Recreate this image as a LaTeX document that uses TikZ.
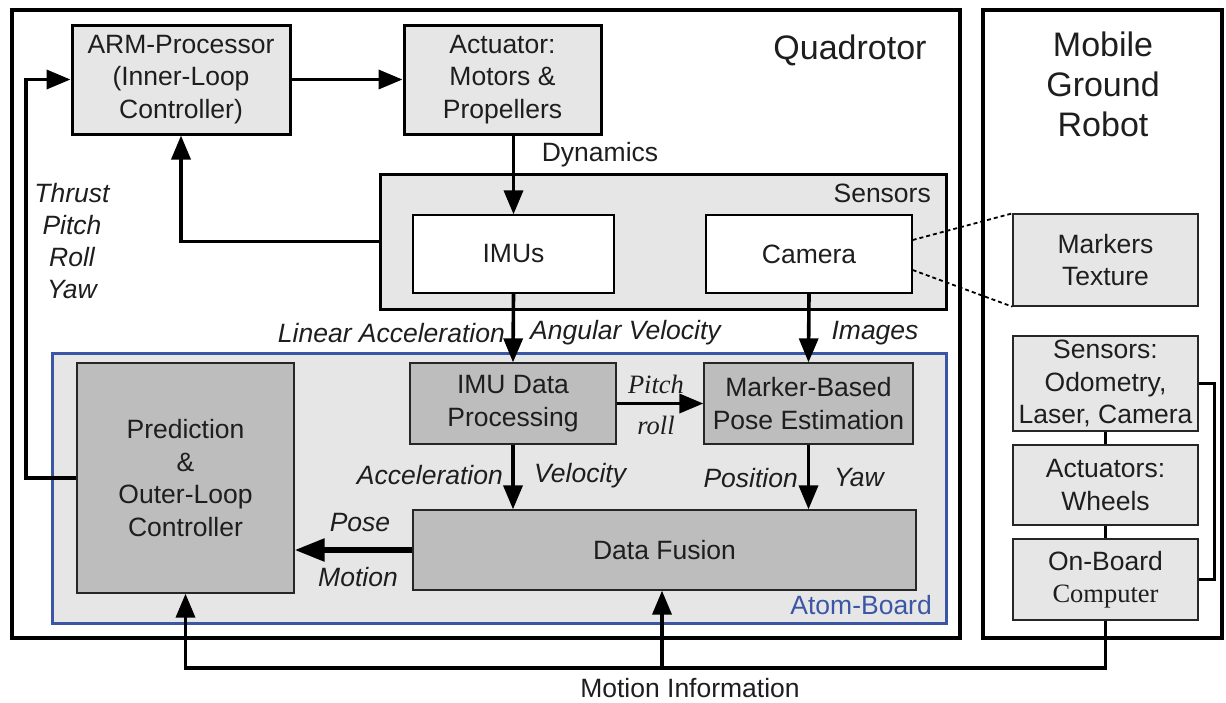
\documentclass[tikz,border=0pt]{standalone}
\usepackage{fontspec}
\setmainfont{Liberation Sans}
\newfontfamily\seriffont{Liberation Serif}
\usetikzlibrary{arrows.meta,calc}
\definecolor{boxlight}{HTML}{E6E6E6}
\definecolor{boxdark}{HTML}{BDBDBD}
\definecolor{atomblue}{HTML}{3B56A5}
\definecolor{ink}{HTML}{1E1E1E}
\tikzset{
  txt/.style={font=\fontsize{26.5}{32.5}\selectfont, text=ink, align=center, inner sep=0pt},
  lbl/.style={txt, font=\fontsize{26.5}{32}\selectfont\itshape},
  frame/.style={draw=black, line width=4.5pt, inner sep=0pt},
  heavybox/.style={txt, draw=black, line width=3pt, fill=boxlight},
  lightbox/.style={txt, draw=black!85, line width=1.3pt, fill=boxlight},
  whitebox/.style={txt, draw=black, line width=1.3pt, fill=white},
  procbox/.style={txt, draw=black!85, line width=1.3pt, fill=boxdark},
  conn/.style={draw=black, line width=3.6pt},
  arr/.style={conn, -{Triangle[length=24pt,width=19pt]}},
  bigarr/.style={draw=black, line width=5.5pt, -{Triangle[length=30pt,width=22pt]}},
  dotline/.style={draw=black, line width=1.8pt, dash pattern=on 4pt off 3pt},
}
\begin{document}
\begin{tikzpicture}[x=1pt, y=-1pt]
\useasboundingbox (0,0) rectangle (1226,702);

% outer frames
\node[frame, minimum width=948pt, minimum height=628pt] (quad) at (486,324) {};
\node[frame, minimum width=239pt, minimum height=628pt] (robot) at (1102.5,324) {};
\node[txt, font=\fontsize{34}{40}\selectfont] (quadlbl) at (850,50) {Quadrotor};
\node[txt, font=\fontsize{34}{40}\selectfont] (robotlbl) at (1103,84) {Mobile\\Ground\\Robot};

% upper blocks
\node[heavybox, minimum width=218pt, minimum height=109pt] (arm) at (181,79.5) {ARM-Processor\\(Inner-Loop\\Controller)};
\node[heavybox, minimum width=197pt, minimum height=109pt] (act) at (502.5,79.5) {Actuator:\\Motors \&\\Propellers};

% sensors group
\node[heavybox, minimum width=566pt, minimum height=135pt] (sens) at (663,241.5) {};
\node[txt, anchor=east] (senslbl) at (931,193) {Sensors};
\node[whitebox, minimum width=201pt, minimum height=78pt] (imu) at (513.5,254) {IMUs};
\node[whitebox, minimum width=206pt, minimum height=78pt] (cam) at (809,254) {Camera};

% atom board
\node[draw=atomblue, line width=3pt, fill=boxlight, minimum width=894pt, minimum height=270pt, inner sep=0pt] (atom) at (499,488) {};
\node[txt, text=atomblue, anchor=east] (atomlbl) at (932,605) {Atom-Board};
\node[procbox, minimum width=217pt, minimum height=230pt] (pred) at (185.5,478) {Prediction\\\&\\Outer-Loop\\Controller};
\node[procbox, minimum width=206pt, minimum height=81pt] (imudp) at (513,403.5) {IMU Data\\Processing};
\node[procbox, minimum width=209pt, minimum height=81pt] (mbpe) at (808.5,403.5) {Marker-Based\\Pose Estimation};
\node[procbox, minimum width=503pt, minimum height=80pt] (df) at (664.5,550) {Data Fusion};

% ground robot blocks
\node[lightbox, minimum width=185pt, minimum height=92pt] (markers) at (1105.5,260) {Markers\\Texture};
\node[lightbox, minimum width=185pt, minimum height=95pt] (rsens) at (1105.5,383.5) {Sensors:\\Odometry,\\Laser, Camera};
\node[lightbox, minimum width=185pt, minimum height=80pt] (ract) at (1105.5,485) {Actuators:\\Wheels};
\node[lightbox, minimum width=185pt, minimum height=81pt] (robc) at (1105.5,579.5) {On-Board\\{\seriffont Computer}};

% connectors in the quadrotor
\coordinate (lft) at (26,0);
\draw[arr] (pred.west) -- (pred.west -| lft) |- (arm.west);
\draw[arr] (arm.east) -- (act.west);
\draw[arr] (act.south -| imu.north) -- (imu.north);
\draw[arr] (sens.west) -| (arm.south);
\draw[arr] (imu.south) -- (imudp.north);
\draw[arr] (cam.south) -- (mbpe.north);
\draw[arr] (imudp.east) -- (mbpe.west);
\draw[arr] (imudp.south) -- (imudp.south |- df.north);
\draw[arr] (mbpe.south) -- (mbpe.south |- df.north);
\draw[bigarr] (df.west) -- (df.west -| pred.east);

% line of sight from the camera to the markers
\draw[dotline] ($(cam.east)+(0,-14)$) -- (markers.north west);
\draw[dotline] ($(cam.east)+(0,16)$) -- (markers.south west);

% ground robot wiring
\draw[conn] (rsens.south) -- (ract.north);
\draw[conn] (ract.south) -- (robc.north);
\draw[conn] (rsens.east) -- ++(16,0) |- (robc.east);

% motion information feedback
\coordinate (mi) at (662,668);
\draw[arr] (robc.south) |- (mi) -| (pred.south);
\draw[arr] (mi) -- (mi |- df.south);
\node[txt] (milbl) at (690,688) {Motion Information};

% signal labels
\node[lbl] (tpry) at (72,241) {Thrust\\Pitch\\Roll\\Yaw};
\node[txt] (dyn) at (600,155) {Dynamics};
\node[lbl, anchor=east] (linacc) at (505,333) {Linear Acceleration};
\node[lbl, anchor=west] (angvel) at (530,333) {Angular Velocity};
\node[lbl] (img) at (875,333) {Images};
\node[txt, font=\fontsize{26.5}{32}\selectfont\seriffont\itshape] (pitch) at (656,384) {Pitch};
\node[txt, font=\fontsize{26.5}{32}\selectfont\seriffont\itshape] (roll) at (656,425) {roll};
\node[lbl, anchor=east] (acc) at (503,475) {Acceleration};
\node[lbl, anchor=west] (vel) at (534,476) {Velocity};
\node[lbl, anchor=east] (pos) at (798,478) {Position};
\node[lbl, anchor=west] (yaw) at (834,478) {Yaw};
\node[lbl] (pose) at (360,523) {Pose};
\node[lbl] (motion) at (358,577) {Motion};
\end{tikzpicture}
\end{document}
